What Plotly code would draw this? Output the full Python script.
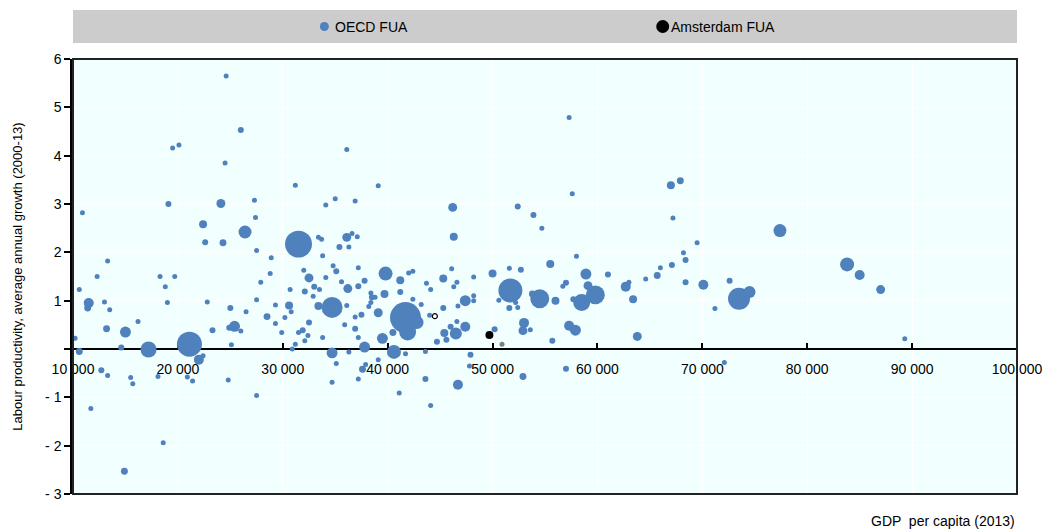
import plotly.graph_objects as go

# OECD functional urban areas: GDP per capita (2013), labour productivity growth
# (average annual, 2000-13, %) and population (millions) used for bubble area.
gdp_pc = [
    24600, 26000, 19500, 20100, 24500, 36100, 31200, 39100, 35000, 27300,
    57300, 67000, 67900, 10900, 19100, 24100, 34100, 36900, 46200, 52400,
    53900, 54700, 57600, 46300, 67200, 69500, 77400, 68200, 68400, 67100,
    66000, 65700, 64600, 22400, 26400, 27400, 22600, 24300, 31500, 27500,
    28900, 33400, 33700, 13300, 12300, 18300, 19700, 18800, 10600, 28800,
    27900, 32000, 32500, 34100, 33000, 33500, 30700, 32100, 32900, 11500,
    11400, 13000, 13500, 19000, 22800, 25000, 27500, 26500, 29300, 30600,
    30800, 33400, 34700, 28500, 30200, 29300, 32500, 16200, 13200, 15000,
    23300, 25400, 24900, 26000, 29900, 31900, 31500, 32400, 32100, 33800,
    10200, 14600, 17200, 21100, 25100, 31200, 30900, 10600, 22000, 22400,
    12700, 13300, 15500, 15700, 18100, 20900, 21400, 24800, 11700, 27500,
    18600, 14900, 36100, 36600, 37100, 35400, 36300, 33800, 34800, 35100,
    37200, 35600, 36200, 37200, 37800, 39800, 41200, 42000, 42400, 41200,
    39700, 38400, 38500, 38800, 38400, 38200, 42400, 43700, 44100, 45300,
    46100, 46300, 46600, 48200, 50000, 51600, 52700, 36100, 37500, 36900,
    35900, 36900, 37200, 37800, 39100, 39500, 40500, 41700, 41900, 42800,
    40600, 43200, 44000, 45300, 46700, 47400, 48200, 48200, 46000, 46600,
    47400, 46500, 45400, 45600, 44700, 36300, 34700, 41700, 43600, 47900,
    50200, 53000, 52900, 53600, 55700, 57300, 57900, 50600, 51600, 52200,
    52400, 51700, 54500, 53800, 56000, 55500, 58000, 57000, 56700, 58900,
    61000, 59100, 59800, 58500, 57700, 62700, 63000, 63400, 68400, 70100,
    72600, 71200, 73500, 74500, 63800, 83800, 85000, 87000, 89300, 35100,
    34700, 37600, 37900, 37200, 39100, 41100, 43600, 44100, 46700, 47800,
    52900, 57000, 72100,
]
lp_growth = [
    5.65, 4.53, 4.16, 4.22, 3.85, 4.13, 3.39, 3.38, 3.11, 3.08,
    4.79, 3.39, 3.48, 2.82, 3.00, 3.01, 2.98, 3.06, 2.93, 2.95,
    2.77, 2.50, 3.21, 2.32, 2.71, 2.20, 2.45, 1.99, 1.84, 1.74,
    1.68, 1.52, 1.45, 2.58, 2.42, 2.72, 2.21, 2.20, 2.17, 2.04,
    1.89, 2.31, 2.27, 1.82, 1.50, 1.50, 1.50, 1.29, 1.23, 1.56,
    1.38, 1.63, 1.47, 1.48, 1.29, 1.23, 1.23, 1.19, 1.09, 0.95,
    0.85, 0.97, 0.81, 0.96, 0.97, 0.85, 1.02, 0.77, 0.91, 0.90,
    0.77, 0.89, 0.86, 0.67, 0.65, 0.53, 0.55, 0.57, 0.42, 0.35,
    0.39, 0.47, 0.44, 0.37, 0.34, 0.39, 0.34, 0.28, 0.17, 0.24,
    0.22, 0.03, -0.01, 0.10, 0.09, 0.10, 0.00, -0.05, -0.22, -0.14,
    -0.44, -0.55, -0.59, -0.72, -0.57, -0.58, -0.66, -0.64, -1.23, -0.96,
    -1.94, -2.53, 2.31, 2.39, 2.32, 2.11, 2.11, 1.93, 1.72, 1.61,
    1.68, 1.39, 1.25, 1.30, 1.41, 1.56, 1.42, 1.57, 1.61, 1.18,
    1.14, 1.16, 1.07, 1.07, 0.96, 0.88, 1.03, 1.36, 1.23, 1.46,
    1.66, 1.29, 1.38, 1.49, 1.56, 1.67, 1.64, 0.90, 0.71, 0.66,
    0.50, 0.42, 0.24, 0.04, 0.75, 0.22, 0.34, 0.65, 0.35, 0.55,
    -0.06, 0.92, 0.70, 0.85, 0.89, 1.00, 1.10, 1.00, 0.46, 0.57,
    0.46, 0.32, 0.33, 0.19, 0.15, -0.06, -0.08, -0.10, -0.05, -0.12,
    0.41, 0.54, 0.38, 0.40, 0.17, 0.48, 0.39, 1.01, 0.85, 0.96,
    0.86, 1.21, 1.04, 1.14, 1.00, 1.76, 1.92, 1.37, 1.30, 1.55,
    1.54, 1.31, 1.12, 0.96, 1.03, 1.29, 1.38, 1.03, 1.38, 1.33,
    1.41, 0.84, 1.04, 1.18, 0.26, 1.75, 1.53, 1.23, 0.21, -0.30,
    -0.69, -0.42, -0.32, -0.62, -0.22, -0.91, -0.62, -1.17, -0.74, -0.35,
    -0.57, -0.41, -0.28,
]
population = [
    0.6, 0.9, 0.6, 0.2, 0.4, 0.6, 0.4, 0.2, 0.4, 0.4,
    0.4, 1.6, 1.2, 0.6, 0.9, 2.0, 0.4, 0.2, 2.0, 0.9,
    0.9, 0.2, 0.4, 1.6, 0.6, 0.4, 4.2, 0.4, 0.9, 0.9,
    0.2, 1.2, 0.6, 1.6, 4.2, 0.2, 0.9, 1.2, 18.2, 0.6,
    0.2, 0.2, 0.2, 0.6, 0.4, 0.4, 0.4, 0.6, 0.2, 0.4,
    0.6, 0.4, 2.0, 0.6, 0.9, 0.4, 0.2, 0.9, 0.6, 2.5,
    1.2, 0.4, 0.4, 0.4, 0.4, 0.9, 0.6, 0.2, 0.2, 1.6,
    0.2, 1.6, 11.0, 1.2, 0.2, 0.4, 0.9, 0.4, 1.2, 3.0,
    0.9, 3.0, 0.9, 0.4, 0.2, 0.9, 0.2, 0.4, 0.4, 0.2,
    0.2, 0.9, 6.4, 15.6, 0.2, 0.6, 0.2, 1.2, 2.5, 0.6,
    0.9, 0.4, 0.4, 0.6, 0.6, 0.4, 0.4, 0.2, 0.4, 0.2,
    0.4, 1.2, 2.0, 0.6, 0.2, 0.9, 0.2, 0.2, 0.6, 0.9,
    0.6, 0.4, 2.0, 0.9, 0.9, 4.9, 1.6, 0.6, 0.4, 0.9,
    1.6, 0.4, 0.9, 0.4, 0.4, 0.4, 0.6, 0.6, 0.2, 1.6,
    0.6, 0.6, 0.2, 0.6, 1.6, 0.2, 0.9, 0.4, 0.9, 0.2,
    0.6, 0.9, 0.6, 3.0, 2.0, 3.0, 1.2, 24.0, 7.2, 4.2,
    4.9, 0.4, 0.4, 0.9, 0.6, 3.0, 0.6, 0.6, 0.9, 0.2,
    2.5, 3.6, 1.6, 0.9, 0.9, 0.2, 3.0, 0.2, 0.6, 0.9,
    0.9, 2.5, 2.0, 0.4, 0.9, 2.5, 3.0, 0.6, 0.9, 0.6,
    0.2, 14.4, 9.0, 1.2, 1.6, 1.6, 0.2, 0.9, 0.2, 3.0,
    0.9, 2.0, 9.0, 7.2, 0.9, 2.5, 0.6, 1.6, 0.9, 2.5,
    0.9, 0.4, 12.1, 3.6, 2.0, 4.9, 2.5, 2.0, 0.2, 0.2,
    0.4, 1.2, 0.2, 0.4, 0.6, 0.4, 0.9, 0.2, 2.5, 0.2,
    1.2, 0.9, 0.2,
]

# Amsterdam FUA and two other highlighted Dutch urban areas
ams_gdp_pc = [49700]
ams_lp_growth = [0.29]
ams_population = [1.6]
nl_grey_gdp_pc = [50900]
nl_grey_lp_growth = [0.10]
nl_grey_population = [0.6]
nl_open_gdp_pc = [44500]
nl_open_lp_growth = [0.68]
nl_open_population = [0.4]

x_range = [10000, 100000]
y_range = [-3, 6]
x_ticks = [10000, 20000, 30000, 40000, 50000, 60000, 70000, 80000, 90000, 100000]
x_ticklabels = ["10 000", "20 000", "30 000", "40 000", "50 000", "60 000",
                "70 000", "80 000", "90 000", "100 000"]
y_ticks = [-3, -2, -1, 0, 1, 2, 3, 4, 5, 6]
y_ticklabels = ["- 3", "- 2", "- 1", "", "1", "2", "3", "4", "5", "6"]

legend_labels = ["OECD FUA", "Amsterdam FUA"]

BLUE = "#4F81BD"
FONT = "Liberation Sans, Arial, sans-serif"

bubble = dict(sizemode="area", sizeref=0.05, sizemin=2.5, opacity=1)

fig = go.Figure()
fig.add_trace(go.Scatter(
    x=gdp_pc, y=lp_growth, mode="markers", name=legend_labels[0],
    marker=dict(size=population, color=BLUE, line=dict(width=0), **bubble),
    showlegend=False,
))
fig.add_trace(go.Scatter(
    x=nl_grey_gdp_pc, y=nl_grey_lp_growth, mode="markers", name="grey",
    marker=dict(size=nl_grey_population, color="#7F7F7F", line=dict(width=0), **bubble),
    showlegend=False,
))
fig.add_trace(go.Scatter(
    x=nl_open_gdp_pc, y=nl_open_lp_growth, mode="markers", name="open",
    marker=dict(size=nl_open_population, color="white",
                line=dict(width=1.2, color="black"), **bubble),
    showlegend=False,
))
fig.add_trace(go.Scatter(
    x=ams_gdp_pc, y=ams_lp_growth, mode="markers", name=legend_labels[1],
    marker=dict(size=ams_population, color="black", line=dict(width=0), **bubble),
    showlegend=False,
))

# x axis crosses the y axis at zero
zero_pos = (0 - y_range[0]) / (y_range[1] - y_range[0])

fig.update_layout(
    width=1055, height=532, autosize=False,
    margin=dict(l=73, r=32, t=59, b=38),
    paper_bgcolor="white", plot_bgcolor="#F2FFFF",
    font=dict(family=FONT, size=14, color="black"),
    showlegend=False,
    xaxis=dict(
        range=x_range, tickvals=x_ticks, ticktext=x_ticklabels,
        showgrid=True, gridcolor="white", gridwidth=1.2, zeroline=False,
        showline=True, linecolor="black", linewidth=2,
        ticks="inside", ticklen=5, tickwidth=1.5, tickcolor="black",
        anchor="free", position=zero_pos, layer="below traces",
        ticklabelstandoff=7, tickfont=dict(size=14),
    ),
    yaxis=dict(
        range=y_range, tickvals=y_ticks, ticktext=y_ticklabels,
        showgrid=True, gridcolor="white", gridwidth=1.2, zeroline=False,
        showline=True, linecolor="black", linewidth=2.5,
        ticks="outside", ticklen=6, tickwidth=1.5, tickcolor="black",
        tickfont=dict(size=14),
        title=dict(text="Labour productivity, average annual growth (2000-13)",
                   font=dict(size=13), standoff=20),
    ),
)

# plot frame
fig.add_shape(type="rect", xref="paper", yref="paper", x0=0, x1=1, y0=0, y1=1,
              line=dict(color="#222222", width=2), layer="above")

# legend band with its entries
fig.add_shape(type="rect", xref="paper", yref="paper", x0=0, x1=1,
              y0=1.0368, y1=1.1126, fillcolor="#CCCCCC", line=dict(width=0),
              layer="below")
legend_marks = [(0.2663, 4.5, BLUE), (0.6247, 6.5, "black")]
for xa, r, col in legend_marks:
    fig.add_shape(type="circle", xref="paper", yref="paper",
                  xsizemode="pixel", ysizemode="pixel",
                  xanchor=xa, yanchor=1.0747, x0=-r, x1=r, y0=-r, y1=r,
                  fillcolor=col, line=dict(width=0))
for xa, label in zip([0.2755, 0.6316], legend_labels):
    fig.add_annotation(x=xa, y=1.0747, xref="paper", yref="paper", text=label,
                       showarrow=False, xanchor="left", yanchor="middle",
                       font=dict(size=14, color="black"))

fig.add_annotation(x=1.0, y=-0.062, xref="paper", yref="paper",
                   text="GDP  per capita (2013)", showarrow=False,
                   xanchor="right", yanchor="middle", font=dict(size=14))

fig.write_html("out.html")
